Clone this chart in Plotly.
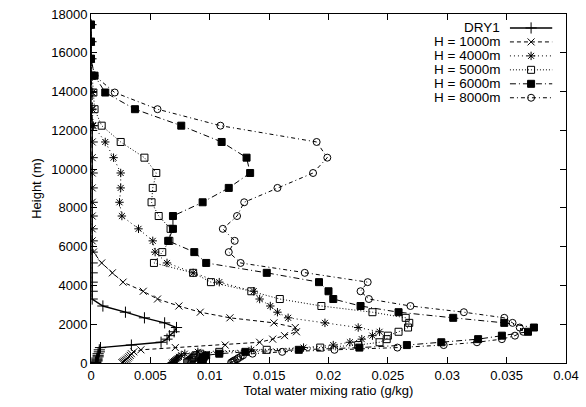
import plotly.graph_objects as go

# Model levels (m), bottom to top
heights = [25, 60, 100, 145, 195, 255, 320, 395, 480, 575, 680, 795, 925, 1070, 1230,
           1410, 1610, 1830, 2070, 2330, 2620, 2940, 3300, 3700, 4170, 4650, 5160, 5720,
           6300, 6920, 7580, 8290, 9030, 9800, 10590, 11400, 12240, 13090, 13950, 14820,
           15690, 16570, 17450]

dry1 = [0.0004, 0.0004, 0.0005, 0.0005, 0.0005, 0.0005, 0.0006, 0.0006, 0.0006, 0.0007,
        0.0007, 0.0008, 0.0034, 0.0059, 0.0064, 0.0066, 0.0070, 0.0072, 0.0062, 0.0045,
        0.0029, 0.0010, 0.0001, 0.0001, 0.0001, 0.0001, 0.0001, 0.0001, 0.0001, 0.0001,
        0.0001, 0.0001, 0.0001, 0.0001, 0.0001, 0.0001, 0.0001, 0.0, 0.0, 0.0,
        0.0, 0.0, 0.0]

h1000 = [0.0026, 0.0027, 0.0028, 0.0029, 0.0030, 0.0031, 0.0032, 0.0033, 0.0034, 0.0036,
         0.0042, 0.0071, 0.0113, 0.0142, 0.0153, 0.0163, 0.0173, 0.0172, 0.0154, 0.0117,
         0.0092, 0.0074, 0.0056, 0.0044, 0.0027, 0.0018, 0.0009, 0.0002, 0.0001, 0.0001,
         0.0001, 0.0001, 0.0001, 0.0001, 0.0001, 0.0001, 0.0001, 0.0001, 0.0001, 0.0,
         0.0, 0.0, 0.0]

h4000 = [0.0068, 0.0069, 0.0070, 0.0071, 0.0072, 0.0073, 0.0074, 0.0076, 0.0079, 0.0090,
         0.0135, 0.0179, 0.0204, 0.0218, 0.0228, 0.0237, 0.0243, 0.0225, 0.0197, 0.0166,
         0.0157, 0.0151, 0.0142, 0.0137, 0.0108, 0.0086, 0.0064, 0.0054, 0.0052, 0.0040,
         0.0026, 0.0024, 0.0025, 0.0025, 0.0019, 0.0012, 0.0002, 0.0001, 0.0001, 0.0,
         0.0, 0.0, 0.0]

h5000 = [0.0081, 0.0082, 0.0083, 0.0084, 0.0085, 0.0086, 0.0087, 0.0088, 0.0092, 0.0108,
         0.0148, 0.0193, 0.0225, 0.0243, 0.0249, 0.0250, 0.0259, 0.0267, 0.0268, 0.0265,
         0.0237, 0.0194, 0.0159, 0.0135, 0.0101, 0.0086, 0.0053, 0.0060, 0.0066, 0.0067,
         0.0057, 0.0051, 0.0052, 0.0055, 0.0045, 0.0025, 0.0009, 0.0003, 0.0002, 0.0001,
         0.0, 0.0, 0.0]

h6000 = [0.0093, 0.0093, 0.0093, 0.0094, 0.0094, 0.0094, 0.0095, 0.0097, 0.0108, 0.0130,
         0.0175, 0.0226, 0.0266, 0.0295, 0.0326, 0.0346, 0.0368, 0.0373, 0.0348, 0.0305,
         0.0259, 0.0227, 0.0204, 0.0200, 0.0192, 0.0148, 0.0097, 0.0087, 0.0065, 0.0069,
         0.0069, 0.0094, 0.0116, 0.0134, 0.0131, 0.0110, 0.0076, 0.0037, 0.0012, 0.0003,
         0.0, 0.0, 0.0]

h8000 = [0.0118, 0.0119, 0.0120, 0.0121, 0.0123, 0.0124, 0.0126, 0.0128, 0.0136, 0.0161,
         0.0205, 0.0258, 0.0297, 0.0325, 0.0346, 0.0357, 0.0364, 0.0361, 0.0355, 0.0348,
         0.0314, 0.0269, 0.0234, 0.0227, 0.0233, 0.0180, 0.0126, 0.0116, 0.0121, 0.0111,
         0.0123, 0.0129, 0.0157, 0.0187, 0.0199, 0.0190, 0.0109, 0.0056, 0.0020, 0.0003,
         0.0, 0.0, 0.0]

series_names = ["DRY1", "H = 1000m", "H = 4000m", "H = 5000m", "H = 6000m", "H = 8000m"]

x_tickvals = [0, 0.005, 0.01, 0.015, 0.02, 0.025, 0.03, 0.035, 0.04]
x_ticktext = ["0", "0.005", "0.01", "0.015", "0.02", "0.025", "0.03", "0.035", "0.04"]
y_tickvals = [0, 2000, 4000, 6000, 8000, 10000, 12000, 14000, 16000, 18000]
y_ticktext = ["0", "2000", "4000", "6000", "8000", "10000", "12000", "14000", "16000", "18000"]

styles = [
    dict(dash="solid", width=1.4, symbol="cross-thin-open", size=8),
    dict(dash="4px,3px", width=1, symbol="x-thin-open", size=7),
    dict(dash="1px,3px", width=1, symbol="asterisk-open", size=7),
    dict(dash="1px,2px", width=1, symbol="square-open", size=7),
    dict(dash="6px,3px,1px,3px", width=1, symbol="square", size=7),
    dict(dash="4px,3px,1px,3px", width=1, symbol="circle-open", size=7),
]

fig = go.Figure()
for name, xs, st in zip(series_names, [dry1, h1000, h4000, h5000, h6000, h8000], styles):
    fig.add_trace(go.Scatter(
        x=xs, y=heights, name=name, mode="lines+markers", showlegend=False,
        line=dict(color="black", dash=st["dash"], width=st["width"]),
        marker=dict(symbol=st["symbol"], size=st["size"], color="black",
                    line=dict(color="black", width=1)),
    ))

# Key (gnuplot style: label on the left, sample on the right), in plot-area fractions
key_text_right = 0.865
key_sample = (0.882, 0.971)
key_top = 0.960
key_step = 0.040
for i, (name, st) in enumerate(zip(series_names, styles)):
    yk = key_top - i * key_step
    fig.add_annotation(x=key_text_right, y=yk, xref="x2", yref="y2", text=name,
                       showarrow=False, xanchor="right", yanchor="middle",
                       font=dict(size=13.5, color="black"))
    fig.add_trace(go.Scatter(
        x=[key_sample[0], key_sample[1]], y=[yk, yk], xaxis="x2", yaxis="y2",
        mode="lines", showlegend=False, hoverinfo="skip",
        line=dict(color="black", dash=st["dash"], width=st["width"])))
    fig.add_trace(go.Scatter(
        x=[(key_sample[0] + key_sample[1]) / 2], y=[yk], xaxis="x2", yaxis="y2",
        mode="markers", showlegend=False, hoverinfo="skip",
        marker=dict(symbol=st["symbol"], size=st["size"], color="black",
                    line=dict(color="black", width=1))))

axis_common = dict(showline=True, linecolor="black", linewidth=1, mirror="ticks",
                   ticks="inside", ticklen=6, tickcolor="black", showgrid=False,
                   zeroline=False, tickfont=dict(size=13, color="black"), automargin=False)

fig.update_layout(
    width=586, height=407,
    margin=dict(l=91, r=20, t=14, b=44),
    paper_bgcolor="white", plot_bgcolor="white",
    font=dict(family="Liberation Sans, Arial, sans-serif", size=13, color="black"),
    xaxis=dict(range=[0, 0.04], tickvals=x_tickvals, ticktext=x_ticktext,
               title=dict(text="Total water mixing ratio (g/kg)", font=dict(size=13), standoff=4),
               **axis_common),
    yaxis=dict(range=[0, 18000], tickvals=y_tickvals, ticktext=y_ticktext,
               title=dict(text="Height (m)", font=dict(size=13), standoff=6),
               **axis_common),
    xaxis2=dict(range=[0, 1], overlaying="x", visible=False, fixedrange=True),
    yaxis2=dict(range=[0, 1], overlaying="y", visible=False, fixedrange=True),
    showlegend=False,
)

# Remove the browser's default 8px body margin so the figure fills the window.
fig.write_html("out.html", config={"displayModeBar": False},
               post_script="document.body.style.margin='0';document.body.style.overflow='hidden';")
